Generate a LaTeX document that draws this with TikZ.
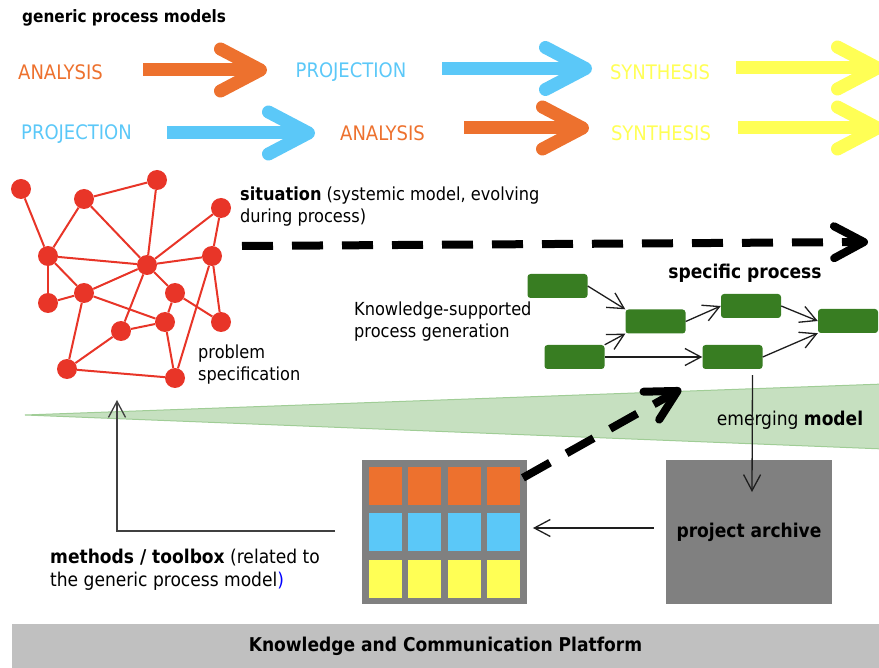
\documentclass[tikz,border=0pt]{standalone}
\usepackage{fontspec}
\setmainfont{DejaVu Sans Condensed}
\usetikzlibrary{matrix,arrows.meta,calc,positioning}
\definecolor{AnalysisColor}{RGB}{237,113,46}
\definecolor{ProjectionColor}{RGB}{91,200,248}
\definecolor{SynthesisColor}{RGB}{255,255,85}
\definecolor{DotColor}{RGB}{232,53,40}
\definecolor{StepColor}{RGB}{56,125,34}
\definecolor{ModelColor}{RGB}{198,224,192}
\definecolor{ModelEdge}{RGB}{160,205,150}
\definecolor{BoxGrey}{RGB}{128,128,128}
\definecolor{BarGrey}{RGB}{192,192,192}
\definecolor{LineColor}{RGB}{30,30,30}

\begin{document}
\begin{tikzpicture}[x=1pt, y=-1pt, font=\fontsize{18}{22}\selectfont,
    note/.style={align=left, inner sep=0pt},
    phase/.style={font=\fontsize{20}{24}\selectfont, inner sep=0pt},
    fat/.style={line width=13pt, -{Straight Barb[length=40pt, width=42pt, round]}},
    broken/.style={line width=8pt, dash pattern=on 31pt off 19pt,
        -{Straight Barb[length=30pt, width=32pt, round]}},
    dot/.style={circle, fill=DotColor, minimum size=20pt, inner sep=0pt},
    stepbox/.style={fill=StepColor, rounded corners=3pt, minimum width=60pt,
        minimum height=24pt, inner sep=0pt},
    link/.style={line width=1.3pt, draw=LineColor, -{Straight Barb[length=16pt, width=17pt]}},
    array/.style={matrix of nodes, fill=BoxGrey, inner sep=6.5pt,
        nodes={minimum width=33pt, minimum height=38pt, inner sep=0pt},
        column sep=6.5pt, row sep=8.5pt, nodes in empty cells,
        row 1/.style={nodes={fill=AnalysisColor}},
        row 2/.style={nodes={fill=ProjectionColor}},
        row 3/.style={nodes={fill=SynthesisColor}}}]

    \useasboundingbox (0,0) rectangle (879,668);

    % emerging model wedge
    \filldraw[fill=ModelColor, draw=ModelEdge, line width=1pt]
        (25,415) -- (884,384) -- (884,449) -- cycle;

    % generic process models
    \node[note, anchor=west, font=\fontsize{17}{21}\selectfont\bfseries] (Generic) at (22,18) {generic process models};
    \node[phase, text=AnalysisColor] (Analysis1) at (60.5,72) {ANALYSIS};
    \node[phase, text=ProjectionColor] (Projection1) at (351,72) {PROJECTION};
    \node[phase, text=SynthesisColor] (Synthesis1) at (660,72) {SYNTHESIS};
    \node[phase, text=ProjectionColor] (Projection2) at (76.5,134) {PROJECTION};
    \node[phase, text=AnalysisColor] (Analysis2) at (382.5,133) {ANALYSIS};
    \node[phase, text=SynthesisColor] (Synthesis2) at (661,133) {SYNTHESIS};

    \coordinate (Fat1a) at (143,70);   \coordinate (Fat1b) at (267,70);
    \coordinate (Fat2a) at (442,68.5); \coordinate (Fat2b) at (592,68.5);
    \coordinate (Fat3a) at (736,68);   \coordinate (Fat3b) at (884,68);
    \coordinate (Fat4a) at (167,133);  \coordinate (Fat4b) at (315,133);
    \coordinate (Fat5a) at (464,128);  \coordinate (Fat5b) at (589,128);
    \coordinate (Fat6a) at (738,128);  \coordinate (Fat6b) at (884,128);

    \foreach \from/\to/\col in {
        Fat1a/Fat1b/AnalysisColor, Fat2a/Fat2b/ProjectionColor,
        Fat3a/Fat3b/SynthesisColor, Fat4a/Fat4b/ProjectionColor,
        Fat5a/Fat5b/AnalysisColor, Fat6a/Fat6b/SynthesisColor}
    \draw[fat, draw=\col] (\from) -- (\to);

    % situation network
    \foreach \n/\x/\y in {1/21/189, 2/84/199, 3/157/180, 4/221/208, 5/48/256,
        6/147/265, 7/212/256, 8/48/303, 9/84/293, 10/175/293, 11/165/322,
        12/221/322, 13/121/331, 14/67/369, 15/175/378}
    \node[dot] (Dot\n) at (\x,\y) {};

    \foreach \from/\to in {1/5, 2/5, 2/3, 2/6, 3/6, 4/6, 4/7, 5/6, 5/8, 5/9,
        8/9, 9/6, 9/11, 9/14, 6/7, 6/10, 6/13, 13/11, 13/14, 10/11, 10/12,
        7/12, 7/15, 11/15, 14/15}
    \draw[DotColor, line width=2pt] (Dot\from) -- (Dot\to);

    \node[note, anchor=west] (Situation) at (240,207)
        {\textbf{situation} (systemic model, evolving\\during process)};
    \node[note, anchor=west] (Problem) at (198,365) {problem\\specification};

    \coordinate (SitStart) at (242,246);
    \coordinate (SitEnd) at (868,242);
    \draw[broken] (SitStart) -- (SitEnd);

    % specific process
    \node[note, font=\fontsize{19}{23}\selectfont\bfseries] (Specific) at (745,273) {specific process};
    \node[note, anchor=west] (Generation) at (354,322) {Knowledge-supported\\process generation};

    \node[stepbox] (StepA) at (557.5,286) {};
    \node[stepbox] (StepB) at (655.5,321.5) {};
    \node[stepbox] (StepC) at (574.5,357) {};
    \node[stepbox] (StepD) at (751,306) {};
    \node[stepbox] (StepE) at (732.5,357) {};
    \node[stepbox] (StepF) at (848,321) {};

    \draw[link] (StepA.east) -- (StepB.north west);
    \draw[link] (StepC.north east) -- (StepB.south west);
    \draw[link] (StepB.east) -- (StepD.west);
    \draw[link] (StepD.east) -- (StepF.west);
    \draw[link] (StepE.east) -- (StepF.south west);
    \draw[link] (StepC.east) -- (StepE.west);

    % toolbox and archive
    \matrix[array] (Toolbox) at (444.5,532) {
        & & & \\
        & & & \\
        & & & \\
    };
    \node[fill=BoxGrey, minimum width=166pt, minimum height=144pt,
        font=\fontsize{19}{23}\selectfont\bfseries] (Archive) at (749,532) {project archive};

    \node[note, font=\fontsize{19}{23}\selectfont] (Emerging) at (790,420) {emerging \textbf{model}};

    \coordinate (GenTip) at (681,389);
    \draw[broken] ($(Toolbox.north east)+(-4,18)$) -- (GenTip);

    \coordinate (ArchiveIn) at (752,492);
    \draw[link] ($(StepE.south)+(20,6)$) -- (ArchiveIn);
    \draw[link] ($(Archive.west)+(-12,-4)$) -- ($(Toolbox.east)+(6,-4)$);

    \coordinate (MethodsEnd) at (335,531);
    \coordinate (ProblemIn) at (117,400);
    \draw[link, draw=LineColor!85] (MethodsEnd) -| (ProblemIn);

    \node[note, anchor=west, font=\fontsize{19}{23}\selectfont] (Methods) at (50,569.5)
        {\textbf{methods / toolbox} (related to\\the generic process model\textcolor{blue}{)}};

    % platform bar
    \node[fill=BarGrey, minimum width=867pt, minimum height=44pt,
        font=\fontsize{19}{23}\selectfont\bfseries] (Platform) at (445.5,646)
        {Knowledge and Communication Platform};

\end{tikzpicture}
\end{document}
